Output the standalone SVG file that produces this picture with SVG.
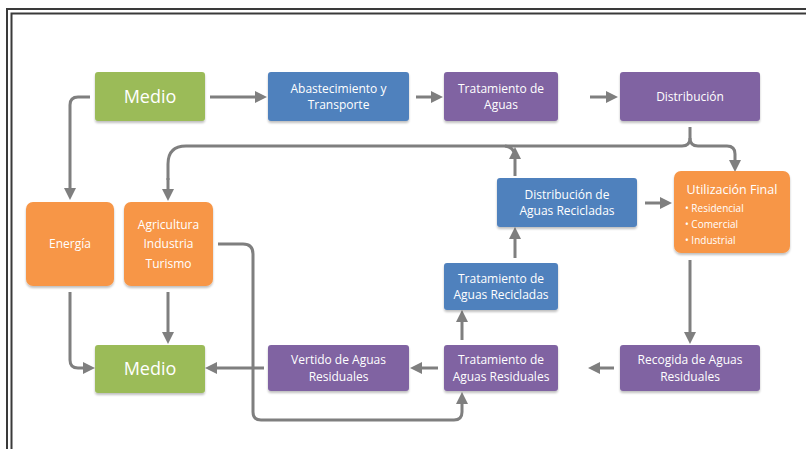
<svg xmlns="http://www.w3.org/2000/svg" width="806" height="449" viewBox="0 0 806 449">
  <style>
    .box { stroke: none; filter: url(#sh); }
    .g { fill: #9bbb59; }
    .b { fill: #4f81bd; }
    .p { fill: #8064a2; }
    .o { fill: #f79646; }
    text { font-family: "Open Sans", "Liberation Sans", sans-serif; fill: #ffffff; text-anchor: middle; }
    .t { font-size: 12px; }
    .big { font-size: 18px; }
    .sm { font-size: 10px; text-anchor: start; }
    .c { fill: none; stroke: #7f7f7f; stroke-width: 3; stroke-linejoin: round; }
    .a { marker-end: url(#ah); }
    .frame { fill: none; stroke: #3a3a3a; stroke-width: 2; }
  </style>
  <defs>
    <marker id="ah" viewBox="0 0 10 10" refX="5" refY="5" markerWidth="4" markerHeight="4" orient="auto" markerUnits="strokeWidth">
      <path d="M0,0 L10,5 L0,10 z" fill="#7f7f7f"/>
    </marker>
    <filter id="sh" x="-10%" y="-10%" width="120%" height="130%">
      <feGaussianBlur in="SourceAlpha" stdDeviation="1.2"/>
      <feOffset dx="0" dy="2" result="o"/>
      <feComponentTransfer><feFuncA type="linear" slope="0.25"/></feComponentTransfer>
      <feMerge><feMergeNode/><feMergeNode in="SourceGraphic"/></feMerge>
    </filter>
  </defs>

  <rect width="806" height="449" fill="#ffffff"/>

  <!-- double frame -->
  <path class="frame" d="M7,449 V9 H806"/>
  <path class="frame" d="M11.5,449 V13.5 H806"/>

  <!-- connectors -->
  <g id="connectors">
    <path class="c a" d="M210,97 H261"/>
    <path class="c a" d="M416,97 H437"/>
    <path class="c a" d="M590,97 H612"/>
    <path class="c a" d="M90,97 H78 Q70,97 70,105 V194"/>
    <path class="c" d="M690,127 V138 Q690,146 682,146 H186 Q168,146 168,164 V180"/>
    <path class="c a" d="M168,178 V195"/>
    <path class="c a" d="M690,138 Q690,146 698,146 H727 Q735,146 735,154 V166"/>
    <path class="c a" d="M515,176 V153"/>
    <path class="c" d="M505,146 Q512,147 514,152"/>
    <path class="c a" d="M645,203 H666"/>
    <path class="c a" d="M515,258 V233"/>
    <path class="c a" d="M462,340 V316"/>
    <path class="c a" d="M690,260 V338"/>
    <path class="c a" d="M614,368 H594"/>
    <path class="c a" d="M438,368 H416"/>
    <path class="c a" d="M264,368 H211"/>
    <path class="c a" d="M70,292 V360 Q70,368 78,368 H89"/>
    <path class="c a" d="M168,292 V338"/>
    <path class="c a" d="M218,244 H243 Q253,244 253,254 V412 Q253,420 261,420 H454 Q462,420 462,412 V398"/>
  </g>

  <!-- nodes -->
  <g id="medio-top">
    <rect class="box g" x="95" y="72" width="110" height="49" rx="3"/>
    <text class="big" x="150" y="103">Medio</text>
  </g>
  <g id="abastecimiento">
    <rect class="box b" x="268" y="72" width="141" height="49" rx="3"/>
    <text class="t" x="338.5" y="93">Abastecimiento y</text>
    <text class="t" x="338.5" y="109">Transporte</text>
  </g>
  <g id="tratamiento-aguas">
    <rect class="box p" x="444" y="72" width="114" height="49" rx="3"/>
    <text class="t" x="501" y="93">Tratamiento de</text>
    <text class="t" x="501" y="109">Aguas</text>
  </g>
  <g id="distribucion">
    <rect class="box p" x="620" y="72" width="140" height="49" rx="3"/>
    <text class="t" x="690" y="101">Distribución</text>
  </g>
  <g id="energia">
    <rect class="box o" x="26" y="202" width="88" height="84" rx="7"/>
    <text class="t" x="70" y="248">Energía</text>
  </g>
  <g id="agricultura">
    <rect class="box o" x="124" y="202" width="89" height="84" rx="7"/>
    <text class="t" x="168.5" y="229">Agricultura</text>
    <text class="t" x="168.5" y="248">Industria</text>
    <text class="t" x="168.5" y="268">Turismo</text>
  </g>
  <g id="distribucion-recicladas">
    <rect class="box b" x="497" y="178" width="140" height="49" rx="3"/>
    <text class="t" x="567" y="199">Distribución de</text>
    <text class="t" x="567" y="215">Aguas Recicladas</text>
  </g>
  <g id="utilizacion-final">
    <rect class="box o" x="674" y="171" width="116" height="82" rx="7"/>
    <text class="t" x="732" y="194" style="font-size:12.5px">Utilización Final</text>
    <text class="sm" x="685" y="212">• Residencial</text>
    <text class="sm" x="685" y="228">• Comercial</text>
    <text class="sm" x="685" y="244">• Industrial</text>
  </g>
  <g id="tratamiento-recicladas">
    <rect class="box b" x="444" y="263" width="114" height="47" rx="3"/>
    <text class="t" x="501" y="283">Tratamiento de</text>
    <text class="t" x="501" y="299">Aguas Recicladas</text>
  </g>
  <g id="medio-bottom">
    <rect class="box g" x="95" y="345" width="110" height="48" rx="3"/>
    <text class="big" x="150" y="375">Medio</text>
  </g>
  <g id="vertido">
    <rect class="box p" x="268" y="345" width="141" height="46" rx="3"/>
    <text class="t" x="338.5" y="364">Vertido de Aguas</text>
    <text class="t" x="338.5" y="381">Residuales</text>
  </g>
  <g id="tratamiento-residuales">
    <rect class="box p" x="444" y="345" width="114" height="46" rx="3"/>
    <text class="t" x="501" y="364">Tratamiento de</text>
    <text class="t" x="501" y="381">Aguas Residuales</text>
  </g>
  <g id="recogida">
    <rect class="box p" x="620" y="345" width="140" height="46" rx="3"/>
    <text class="t" x="690" y="364">Recogida de Aguas</text>
    <text class="t" x="690" y="381">Residuales</text>
  </g>
</svg>
